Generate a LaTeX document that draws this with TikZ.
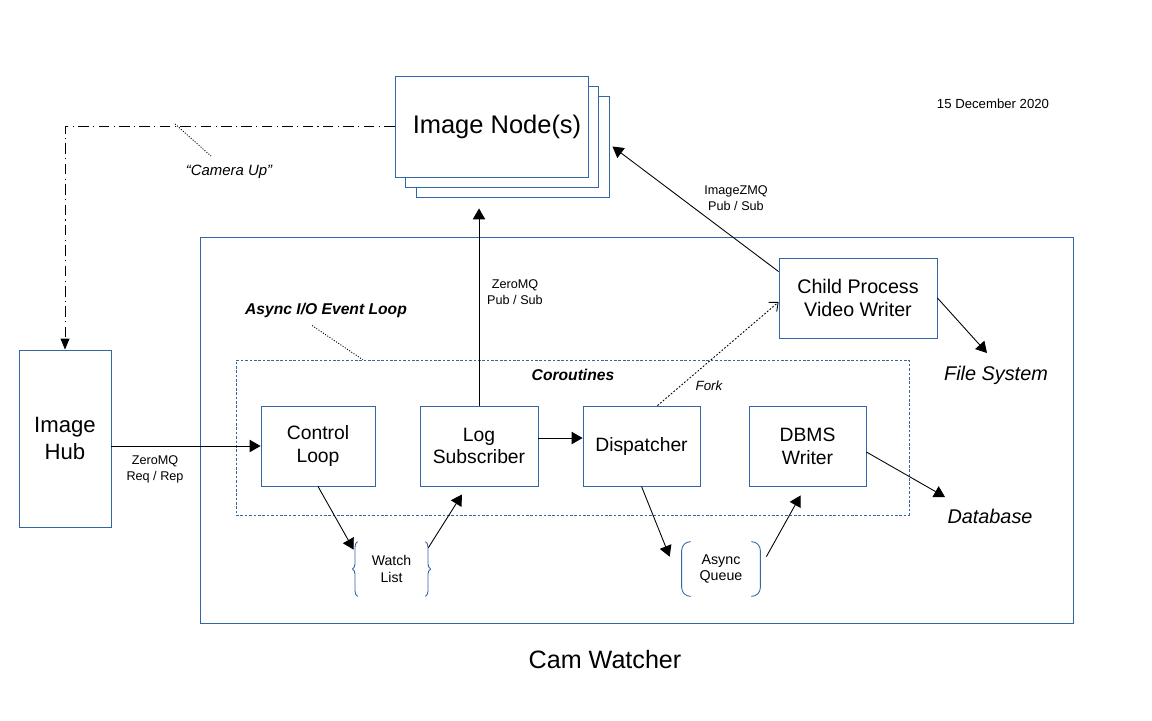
\documentclass[tikz,border=0pt]{standalone}
\usepackage{fontspec}
\setmainfont{Liberation Sans}
\usepackage{tikz}
\usetikzlibrary{arrows.meta}
\usetikzlibrary{calc}
\usetikzlibrary{decorations.pathreplacing}
\definecolor{boxblue}{RGB}{52,101,164}

\begin{document}
\begin{tikzpicture}
  [
    x=0.02cm,
    y=-0.02cm,
    box/.style={
      draw=boxblue,
      line width=0.5pt,
      fill=white,
      align=center,
      inner sep=0pt,
      font=\fontsize{11}{13}\selectfont
    },
    lbl/.style={
      font=\fontsize{7.2}{9}\selectfont,
      align=center
    },
    note/.style={
      font=\fontsize{11.3}{13}\selectfont\itshape
    },
    head/.style={
      font=\fontsize{8.9}{11}\selectfont\bfseries\itshape
    },
    arr/.style={
      line width=0.5pt,
      -{Triangle[length=6.2pt,width=7pt]}
    },
    lead/.style={
      line width=0.5pt,
      dash pattern=on 0.6pt off 0.9pt
    },
    bracket/.style={
      draw=boxblue,
      line width=0.5pt
    }
  ]
    \useasboundingbox [fill=white] (0,0) rectangle (1152,720);
    % outer frames
    \node [box, minimum width=17.48cm, minimum height=7.72cm] (watcher) at (637,430) {};
    \node [draw=boxblue, line width=0.5pt, dash pattern=on 1.5pt off 1pt, minimum width=13.46cm, minimum height=3.1cm] (coro) at (572.5,437.5) {};
    % image nodes
    \node [box, minimum width=3.86cm, minimum height=2.02cm] (img3) at (512.5,146.5) {};
    \node [box, minimum width=3.86cm, minimum height=2.02cm] (img2) at (502,136.5) {};
    \node [box, minimum width=3.86cm, minimum height=2.02cm, font=\fontsize{14.5}{17}\selectfont] (img) at (491.5,126.5) {\hspace{0.22cm}Image Node(s)};
    % hub and coroutines
    \node [box, minimum width=1.84cm, minimum height=3.54cm, font=\fontsize{12.6}{15.3}\selectfont] (hub) at (65,438.5) {Image\\Hub};
    \node [box, minimum width=2.28cm, minimum height=1.6cm] (ctrl) at (318,446) {Control\\Loop};
    \node [box, minimum width=2.36cm, minimum height=1.6cm] (log) at (479,446) {Log\\Subscriber};
    \node [box, minimum width=2.34cm, minimum height=1.6cm] (disp) at (641.5,446) {Dispatcher};
    \node [box, minimum width=2.34cm, minimum height=1.6cm] (dbms) at (807.5,446) {DBMS\\Writer};
    \node [box, minimum width=3.16cm, minimum height=1.6cm, font=\fontsize{11.2}{13.6}\selectfont] (child) at (858,298) {Child Process\\Video Writer};
    % data structures
    \node [lbl, font=\fontsize{8}{9.6}\selectfont, minimum width=1.34cm, minimum height=1.08cm] (watch) at (391.5,569) {Watch\\List};
    \node [lbl, font=\fontsize{8.1}{9.6}\selectfont, minimum width=1.56cm, minimum height=1.08cm] (queue) at (721,569) {Async\\Queue};
    \draw [bracket, decorate, decoration={brace,amplitude=3pt}] (watch.south west) -- (watch.north west);
    \draw [bracket, decorate, decoration={brace,amplitude=3pt}] (watch.north east) -- (watch.south east);
    \draw [bracket, rounded corners=5pt] ($(queue.north west)+(9,0)$) -- (queue.north west) -- (queue.south west) -- ($(queue.south west)+(9,0)$);
    \draw [bracket, rounded corners=5pt] ($(queue.north east)+(-9,0)$) -- (queue.north east) -- (queue.south east) -- ($(queue.south east)+(-9,0)$);
    % labels
    \node [lbl, font=\fontsize{7.5}{9}\selectfont] (date) at (993,104) {15 December 2020};
    \node [lbl, font=\fontsize{8.5}{10}\selectfont\itshape] (cam) at (229,172) {“Camera Up”};
    \node [lbl] (reqrep) at (155,469) {ZeroMQ\\Req / Rep};
    \node [lbl] (pubsub) at (515,292) {ZeroMQ\\Pub / Sub};
    \node [lbl] (imgzmq) at (736,198) {ImageZMQ\\Pub / Sub};
    \node [lbl, font=\fontsize{7.6}{9}\selectfont\itshape] (fork) at (709,386) {Fork};
    \node [head] (aio) at (326,310) {Async I/O Event Loop};
    \node [head] (corolbl) at (573,375) {Coroutines};
    \node [note] (fs) at (996,375) {File System};
    \node [note] (db) at (990,516) {Database};
    \node [font=\fontsize{14.3}{17}\selectfont] (title) at (605,660) {Cam Watcher};
    \coordinate (camtap) at (175,124);
    % connectors
    \draw [line width=0.5pt, dash pattern=on 6pt off 2.5pt on 0.6pt off 2.5pt, -{Triangle[length=6.2pt,width=5pt]}] (img.west) -| (hub.north);
    \draw [lead] (camtap) -- ($(cam.north)+(-18,-3)$);
    \draw [lead] ($(aio.south)+(-14,2)$) -- ($(coro.north west)+(127,0)$);
    \draw [arr] (ctrl.west -| hub.east) -- (ctrl.west);
    \draw [arr] (log.north) -- ($(log.north |- img3.south)+(0,11)$);
    \draw [arr] ($(child.north west)+(0,14)$) -- ($(img3.east)+(3,0)$);
    \draw [arr] ($(log.east)+(0,-8)$) -- ($(disp.west)+(0,-8)$);
    \draw [line width=0.5pt, dash pattern=on 1pt off 1pt, -{Straight Barb[length=4pt,width=7pt]}] ($(disp.north)+(16,0)$) -- ($(child.west)+(0,4)$);
    \draw [arr] (child.east) -- ($(fs)+(-9,-22)$);
    \draw [arr] ($(dbms.east)+(0,6)$) -- ($(db)+(-45,-19)$);
    \draw [arr] (ctrl.south) -- ($(watch.north west)+(-4,8)$);
    \draw [arr] ($(watch.north east)+(3,6)$) -- ($(log.south)+(-17,8)$);
    \draw [arr] (disp.south) -- ($(queue.north west)+(-12,15)$);
    \draw [arr] ($(queue.north east)+(6,15)$) -- ($(dbms.south)+(-7,9)$);
  \end{tikzpicture}
\end{document}
